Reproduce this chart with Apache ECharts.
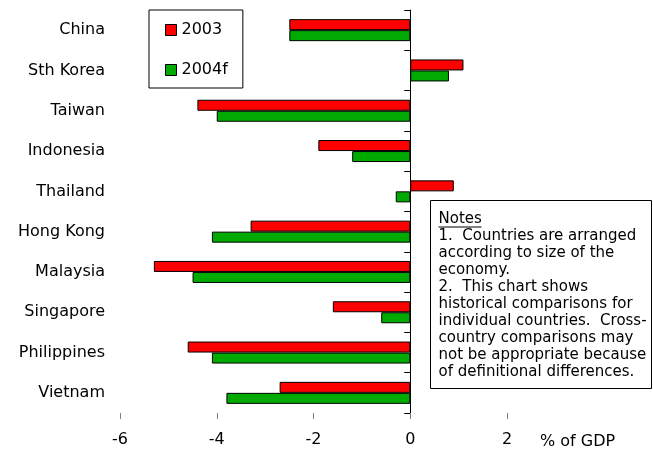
<!DOCTYPE html>
<html>
<head>
<meta charset="utf-8">
<script src="https://cdn.jsdelivr.net/npm/echarts@6/dist/echarts.min.js"></script>
<style>
  html, body { margin: 0; padding: 0; background: #fff; }
  #chart { width: 653px; height: 451px; }
</style>
</head>
<body>
<div id="chart"></div>
<script>
// Current account balance, % of GDP
const countries = ['China', 'Sth Korea', 'Taiwan', 'Indonesia', 'Thailand',
                   'Hong Kong', 'Malaysia', 'Singapore', 'Philippines', 'Vietnam'];
const values2003 = [-2.5, 1.1, -4.4, -1.9, 0.9, -3.3, -5.3, -1.6, -4.6, -2.7];
const values2004f = [-2.5, 0.8, -4.0, -1.2, -0.3, -4.1, -4.5, -0.6, -4.1, -3.8];
const seriesNames = ['2003', '2004f'];
const xTicks = { min: -6, max: 2, interval: 2 };
const axisTitle = '% of GDP';
const notesLines = [
  'Notes',
  '1.  Countries are arranged',
  'according to size of the',
  'economy.',
  '2.  This chart shows',
  'historical comparisons for',
  'individual countries.  Cross-',
  'country comparisons may',
  'not be appropriate because',
  'of definitional differences.'
];

const FONT = 'Verdana, "DejaVu Sans", sans-serif';
const chart = echarts.init(document.getElementById('chart'), null, { renderer: 'canvas' });

const barStyle = (color) => ({ color: color, borderColor: '#000', borderWidth: 1 });

chart.setOption({
  animation: false,
  backgroundColor: '#fff',
  grid: { left: 120, right: 146, top: 10, bottom: 38, containLabel: false },
  legend: {
    orient: 'vertical',
    left: 149, top: 10,
    padding: [10, 15, 8, 16],
    itemGap: 20,
    itemWidth: 11, itemHeight: 11,
    borderColor: '#000', borderWidth: 1,
    icon: 'rect',
    itemStyle: { borderColor: '#000', borderWidth: 1 },
    textStyle: { fontFamily: FONT, fontSize: 16, color: '#000', lineHeight: 20 },
    data: seriesNames
  },
  xAxis: {
    type: 'value',
    min: xTicks.min, max: xTicks.max, interval: xTicks.interval,
    axisLine: { onZero: false, lineStyle: { color: '#808080', width: 1 } },
    axisTick: { show: true, inside: false, length: 6, lineStyle: { color: '#808080' } },
    axisLabel: { fontFamily: FONT, fontSize: 16, color: '#000', margin: 19 },
    splitLine: { show: false }
  },
  yAxis: [
    {
      // country names along the left edge
      type: 'category', inverse: true, data: countries,
      position: 'left',
      axisLine: { show: false, onZero: false }, axisTick: { show: false },
      axisLabel: { fontFamily: FONT, fontSize: 16, color: '#000', margin: 15 }
    },
    {
      // vertical zero line with category ticks
      type: 'category', inverse: true, data: countries,
      position: 'left',
      axisLine: { show: true, onZero: true, lineStyle: { color: '#000', width: 1 } },
      axisTick: { show: true, length: 6, lineStyle: { color: '#000' } },
      axisLabel: { show: false }
    }
  ],
  series: [
    { name: seriesNames[0], type: 'bar', data: values2003, barWidth: 11, barGap: '0%',
      itemStyle: barStyle('#ff0000') },
    { name: seriesNames[1], type: 'bar', data: values2004f, barWidth: 11, barGap: '0%',
      itemStyle: barStyle('#00aa00') }
  ],
  graphic: [
    { type: 'text', left: 540, top: 434,
      style: { text: axisTitle, font: '16px ' + FONT, fill: '#000' } },
    { type: 'group', left: 430, top: 200, children: [
      { type: 'rect', shape: { x: 0, y: 0, width: 221, height: 188 },
        style: { fill: '#fff', stroke: '#000', lineWidth: 1 } },
      { type: 'text', x: 8, y: 10,
        style: { text: notesLines.join('\n'), font: '15px ' + FONT, fill: '#000', lineHeight: 17 } },
      { type: 'line', shape: { x1: 8, y1: 26.5, x2: 51, y2: 26.5 },
        style: { stroke: '#000', lineWidth: 1 } }
    ] }
  ]
});
</script>
</body>
</html>
